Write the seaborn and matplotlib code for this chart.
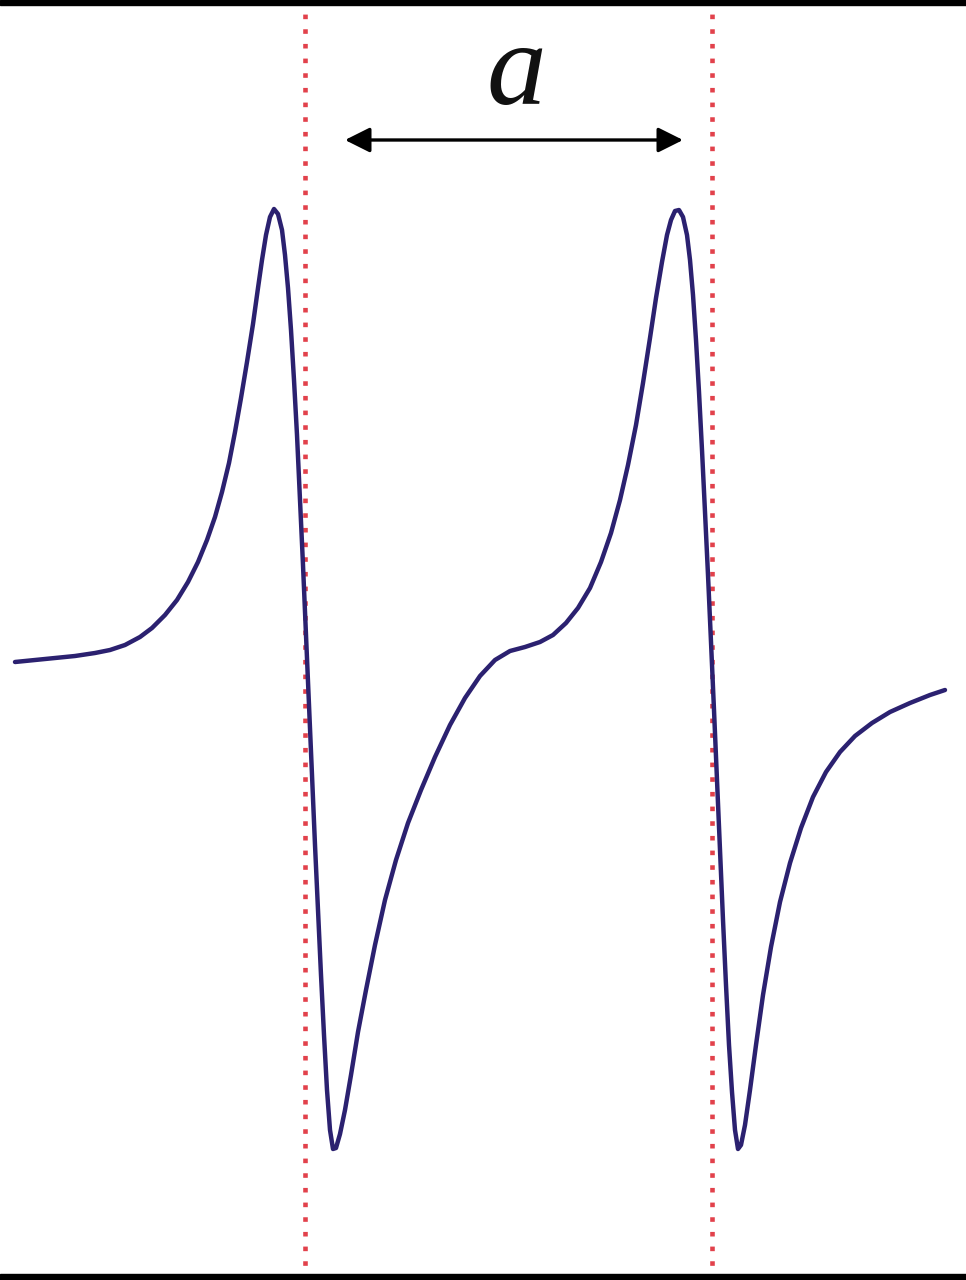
import numpy as np
import pandas as pd
import matplotlib
matplotlib.use("Agg")
import matplotlib.pyplot as plt
import seaborn as sns

field = [15, 35, 55, 75, 95, 110, 125, 140, 152, 165, 177, 188, 198, 207,
         215, 222, 229, 235, 241, 247, 253, 258, 262, 266, 270, 274, 278, 282,
         285, 288, 291, 294, 297, 300, 303, 306, 309, 312, 315, 318, 321, 324,
         327, 330, 333, 336, 340, 345, 351, 358, 366, 375, 385, 396, 408, 421,
         435, 450, 465, 480, 495, 510, 525, 540, 553, 566, 578, 590, 601, 611,
         620, 628, 636, 643, 650, 656, 662, 667, 671, 675, 679, 683, 687, 690,
         693, 696, 699, 702, 705, 708, 711, 714, 717, 720, 723, 726, 729, 732,
         735, 738, 741, 745, 750, 756, 763, 771, 780, 790, 801, 813, 826, 840,
         855, 872, 890, 910, 930, 945]
signal = [-2, 0, 2, 4, 7, 10, 15, 23, 32, 45, 60, 78, 98, 120,
          143, 168, 197, 228, 262, 298, 336, 372, 400, 425, 443, 451, 446, 430,
          405, 372, 330, 280, 225, 160, 95, 25, -45, -115, -185, -250, -315, -375,
          -430, -470, -489, -488, -474, -450, -415, -372, -330, -285, -240, -200, -163, -130,
          -97, -65, -38, -16, 0, 9, 13, 18, 25, 37, 52, 72, 98, 127,
          160, 195, 235, 277, 322, 362, 398, 425, 440, 449, 450, 443, 425, 400,
          365, 320, 268, 210, 148, 85, 18, -50, -120, -190, -260, -325, -385, -432,
          -470, -489, -485, -465, -430, -385, -335, -287, -242, -203, -168, -137, -112, -92,
          -76, -63, -52, -43, -35, -30]

line_positions = [305, 712]   # líneas punteadas rojas
arrow_span = [345, 683]       # flecha de la separación a
label = "a"

df = pd.DataFrame({"field": field, "signal": signal})

sns.set_style("white")
fig = plt.figure(figsize=(9.66, 12.8), dpi=100)
ax = fig.add_axes([0, 0, 1, 1])

for xv in line_positions:
    ax.axvline(xv, color="#e2414b", linestyle=(0, (1, 2.2)), linewidth=3.3, zorder=1)

sns.lineplot(data=df, x="field", y="signal", sort=False, color="#2b2170",
             linewidth=3.2, ax=ax, zorder=2)

ax.set_xlim(0, 966)
ax.set_ylim(-620, 660)

# Flecha doble y etiqueta
ax.annotate("", xy=(arrow_span[1], 520), xytext=(arrow_span[0], 520),
            arrowprops=dict(arrowstyle="<|-|>", color="black", lw=2.4,
                            mutation_scale=38, shrinkA=0, shrinkB=0))
ax.text(sum(arrow_span) / 2 + 2, 556, label, ha="center", va="baseline",
        fontsize=86, fontstyle="italic", family="Liberation Serif", color="#111111")

# Bandas negras arriba y abajo
ax.axhspan(655, 660, color="black")
ax.axhspan(-620, -614, color="black")

ax.set_axis_off()
fig.savefig("out.png", dpi=100, facecolor="white")
plt.close()
